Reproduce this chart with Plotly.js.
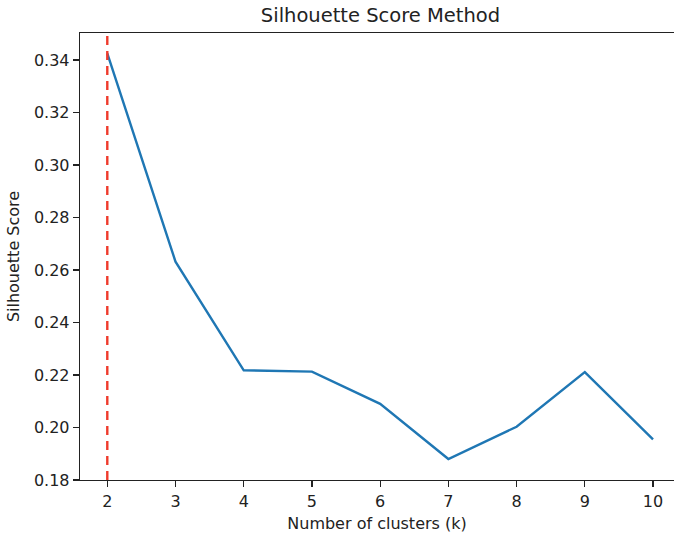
<!DOCTYPE html>
<html>
<head>
<meta charset="utf-8">
<script src="https://cdn.plot.ly/plotly-3.0.1.min.js"></script>
<style>html,body{margin:0;padding:0;background:#fff;overflow:hidden;}#chart{width:674px;height:538px;}</style>
</head>
<body>
<div id="chart"></div>
<script>
const clusters = [2, 3, 4, 5, 6, 7, 8, 9, 10];
const scores = [0.3425, 0.2632, 0.2218, 0.2213, 0.2090, 0.1880, 0.2003, 0.2211, 0.1955];
const bestK = 2;
const yTicks = [0.18, 0.20, 0.22, 0.24, 0.26, 0.28, 0.30, 0.32, 0.34];
const yTickLabels = ["0.18", "0.20", "0.22", "0.24", "0.26", "0.28", "0.30", "0.32", "0.34"];

const font = "DejaVu Sans, sans-serif";
const traces = [{
  x: clusters, y: scores, type: "scatter", mode: "lines",
  line: {color: "#1f77b4", width: 2.4}, hoverinfo: "skip"
}];
const layout = {
  width: 674, height: 538,
  margin: {l: 80, r: 0, t: 33, b: 58},
  paper_bgcolor: "#fff", plot_bgcolor: "#fff",
  showlegend: false,
  font: {family: font, size: 16, color: "#222"},
  title: {text: "Silhouette Score Method", font: {family: font, size: 19.5, color: "#222"},
          x: 380.5/674, xref: "container", xanchor: "center", y: 1 - 15/538, yref: "container", yanchor: "middle"},
  xaxis: {
    range: [1.6, 10 + (674-653)/68.3], tickvals: clusters, ticktext: clusters.map(String),
    showgrid: false, zeroline: false, showline: true, linecolor: "#222", linewidth: 1.3, mirror: true,
    ticks: "outside", ticklen: 6, tickwidth: 1.3, tickcolor: "#222",
    tickfont: {family: font, size: 16, color: "#222"},
    title: {text: "Number of clusters (k)", font: {family: font, size: 16, color: "#222"}, standoff: 8}
  },
  yaxis: {
    range: [0.18, 0.3503], tickvals: yTicks, ticktext: yTickLabels,
    showgrid: false, zeroline: false, showline: true, linecolor: "#222", linewidth: 1.3, mirror: false,
    ticks: "outside", ticklen: 6, tickwidth: 1.3, tickcolor: "#222",
    tickfont: {family: font, size: 16, color: "#222"},
    title: {text: "Silhouette Score", font: {family: font, size: 16, color: "#222"}, standoff: 10}
  },
  shapes: [{
    type: "line", xref: "x", yref: "paper", x0: bestK, x1: bestK, y0: 0, y1: 1,
    line: {color: "#ef3b2c", width: 2.4, dash: "9px,6px"}
  }]
};
Plotly.newPlot("chart", traces, layout, {staticPlot: true, displayModeBar: false});
</script>
</body>
</html>
